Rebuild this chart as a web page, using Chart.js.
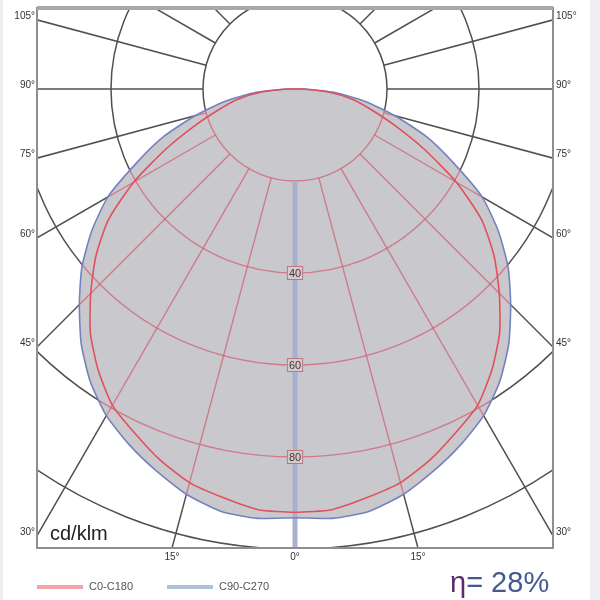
<!DOCTYPE html>
<html><head><meta charset="utf-8">
<script src="https://cdn.jsdelivr.net/npm/chart.js@4.4.1/dist/chart.umd.min.js"></script>
<style>html,body{margin:0;padding:0;background:#fff}canvas{display:block}</style>
</head><body>
<canvas id="c" width="600" height="600"></canvas>
<script>
// ---- data ----
const GAMMA = [0,5,10,15,20,25,30,35,40,45,50,55,60,65,70,75,80,85,90,95];
const C0_C180  = [92.0,91.8,90.2,88.6,85.8,82.5,79.4,74.6,69.2,62.8,56.5,49.5,40.5,31.0,23.0,17.0,12.5,7.0,1.5,0];
const C90_C270 = [93.2,93.7,93.2,91.2,88.3,85.3,82.0,77.6,72.3,66.3,60.5,54.0,47.0,38.0,30.5,22.5,15.5,8.5,2.0,0];
const RINGS = [20,40,60,80,100];
const RING_LABELS = ['40','60','80'];
const RING_LABEL_VALUES = [40,60,80];
const RADIAL_ANGLES = [15,30,45,60,75,90,105,120,135,150,165];
const SIDE_LABELS = ['105°','90°','75°','60°','45°','30°'];
const SIDE_LABEL_ANGLES = [105,90,75,60,45,30];
const BOTTOM_LABELS = ['15°','0°','15°'];
const BOTTOM_LABEL_ANGLES = [-15,0,15];
const SERIES_NAMES = ['C0-C180','C90-C270'];
const UNIT_LABEL = 'cd/klm';
const ETA_LABEL = 'η';
const ETA_VALUE = '= 28%';

function toXY(values){
  const pts=[];
  for(let i=GAMMA.length-1;i>=0;i--){const g=GAMMA[i]*Math.PI/180;pts.push({x:-values[i]*Math.sin(g),y:-values[i]*Math.cos(g)});}
  for(let i=1;i<GAMMA.length;i++){const g=GAMMA[i]*Math.PI/180;pts.push({x:values[i]*Math.sin(g),y:-values[i]*Math.cos(g)});}
  return pts;
}

function drawGrid(ctx,cx,cy,k,color,lw){
  ctx.save();
  ctx.strokeStyle=color; ctx.lineWidth=lw;
  RINGS.forEach(r=>{ctx.beginPath();ctx.arc(cx,cy,r*k,0,Math.PI*2);ctx.stroke();});
  const r0=RINGS[0]*k, r1=140*k;
  RADIAL_ANGLES.forEach(a=>{
    const g=a*Math.PI/180;
    [-1,1].forEach(s=>{
      const dx=s*Math.sin(g), dy=Math.cos(g);
      ctx.beginPath();ctx.moveTo(cx+dx*r0,cy+dy*r0);ctx.lineTo(cx+dx*r1,cy+dy*r1);ctx.stroke();
    });
  });
  ctx.restore();
}

function shapePath(ctx,chart,idx){
  const meta=chart.getDatasetMeta(idx);
  ctx.beginPath();
  meta.dataset.path(ctx);
  ctx.closePath();
}

const polarPlugin = {
  id:'polar',
  beforeDraw(chart){
    const ctx=chart.ctx; ctx.save();
    ctx.fillStyle='#ffffff'; ctx.fillRect(0,0,600,600);
    ctx.fillStyle='#eeeef2'; ctx.fillRect(590,0,10,600); ctx.fillRect(0,0,3,600);
    ctx.restore();
  },
  beforeDatasetsDraw(chart){
    const {ctx, chartArea:a, scales:{x,y}} = chart;
    const cx=x.getPixelForValue(0), cy=y.getPixelForValue(0);
    const k=x.getPixelForValue(1)-cx;
    ctx.save();
    ctx.beginPath(); ctx.rect(a.left,a.top,a.right-a.left,a.bottom-a.top); ctx.clip();
    drawGrid(ctx,cx,cy,k,'#505050',1.5);
    shapePath(ctx,chart,1);
    ctx.fillStyle='#c9c9cd'; ctx.fill();
    ctx.save(); shapePath(ctx,chart,1); ctx.clip(); drawGrid(ctx,cx,cy,k,'rgba(210,90,110,0.7)',1.4); ctx.restore();
    ctx.strokeStyle='#a8b0cf'; ctx.lineWidth=5;
    ctx.beginPath(); ctx.moveTo(cx,cy+RINGS[0]*k); ctx.lineTo(cx,a.bottom); ctx.stroke();
    ctx.restore();
  },
  afterDatasetsDraw(chart){
    const {ctx, scales:{x,y}} = chart;
    const cx=x.getPixelForValue(0);
    ctx.save();
    ctx.font='11px "Liberation Sans", Arial, sans-serif';
    ctx.textAlign='center'; ctx.textBaseline='middle';
    RING_LABEL_VALUES.forEach((v,i)=>{
      const py=y.getPixelForValue(-v);
      const w=ctx.measureText(RING_LABELS[i]).width+4;
      ctx.fillStyle='#d2cccf'; ctx.fillRect(cx-w/2,py-7,w,14);
      ctx.strokeStyle='rgba(185,95,110,0.8)'; ctx.lineWidth=1; ctx.strokeRect(cx-w/2+0.5,py-6.5,w-1,13);
      ctx.fillStyle='#4a3434'; ctx.fillText(RING_LABELS[i],cx,py+0.5);
    });
    ctx.restore();
  },
  afterDraw(chart){
    const {ctx, chartArea:a, scales:{x,y}} = chart;
    ctx.save();
    ctx.strokeStyle='#8e8e8e'; ctx.lineWidth=2;
    ctx.strokeRect(a.left,a.top,a.right-a.left,a.bottom-a.top);
    ctx.strokeStyle='#a8a8a8'; ctx.lineWidth=4;
    ctx.beginPath(); ctx.moveTo(a.left,a.top); ctx.lineTo(a.right,a.top); ctx.stroke();
    ctx.fillStyle='#333'; ctx.font='10px "Liberation Sans", Arial, sans-serif'; ctx.textBaseline='middle';
    const xm=x.max;
    SIDE_LABEL_ANGLES.forEach((ang,i)=>{
      const g=ang*Math.PI/180;
      const yv=-xm*Math.cos(g)/Math.sin(g);
      const py=y.getPixelForValue(yv)-4;
      ctx.textAlign='right'; ctx.fillText(SIDE_LABELS[i],a.left-2,py);
      ctx.textAlign='left'; ctx.fillText(SIDE_LABELS[i],a.right+3,py);
    });
    ctx.textAlign='center'; ctx.textBaseline='top';
    BOTTOM_LABEL_ANGLES.forEach((ang,i)=>{
      const g=ang*Math.PI/180;
      const xv=-y.min*Math.tan(g);
      ctx.fillText(BOTTOM_LABELS[i],x.getPixelForValue(xv),a.bottom+4);
    });
    ctx.textAlign='left'; ctx.textBaseline='alphabetic';
    ctx.font='20px "Liberation Sans Narrow", "Liberation Sans", Arial, sans-serif'; ctx.fillStyle='#222';
    ctx.fillText(UNIT_LABEL,a.left+13,a.bottom-8);
    const ds=chart.data.datasets;
    ctx.font='11px "Liberation Sans", Arial, sans-serif'; ctx.fillStyle='#555'; ctx.textBaseline='middle';
    const lx=[37,167];
    ds.forEach((d,i)=>{
      ctx.strokeStyle=d.legendColor; ctx.lineWidth=4;
      ctx.beginPath(); ctx.moveTo(lx[i],587); ctx.lineTo(lx[i]+46,587); ctx.stroke();
      ctx.fillText(d.label,lx[i]+52,587);
    });
    ctx.textBaseline='alphabetic';
    ctx.font='29px "Liberation Sans", Arial, sans-serif';
    ctx.fillStyle='#5e2c6c'; ctx.fillText(ETA_LABEL,450,592);
    const ew=ctx.measureText(ETA_LABEL).width;
    ctx.fillStyle='#46598f'; ctx.fillText(ETA_VALUE,450+ew,592);
    ctx.restore();
  }
};

const K=4.6, CX=295, CY=89, L=37, R=553, T=8, B=548;
new Chart(document.getElementById('c'),{
  type:'scatter',
  data:{datasets:[
    {label:SERIES_NAMES[0],data:toXY(C0_C180),showLine:true,fill:false,borderColor:'#e0505e',borderWidth:1.6,pointRadius:0,tension:0.2,order:1,legendColor:'#f2a4a8'},
    {label:SERIES_NAMES[1],data:toXY(C90_C270),showLine:true,fill:false,borderColor:'#7482c0',borderWidth:1.6,pointRadius:0,tension:0.2,order:2,legendColor:'#aec0da'}
  ]},
  options:{
    responsive:false, animation:false, devicePixelRatio:1,
    layout:{padding:{left:L,top:T,right:600-R,bottom:600-B}},
    scales:{
      x:{type:'linear',display:false,min:-(CX-L)/K,max:(R-CX)/K},
      y:{type:'linear',display:false,min:-(B-CY)/K,max:(CY-T)/K}
    },
    plugins:{legend:{display:false},tooltip:{enabled:false}},
    events:[]
  },
  plugins:[polarPlugin]
});
</script>
</body></html>
